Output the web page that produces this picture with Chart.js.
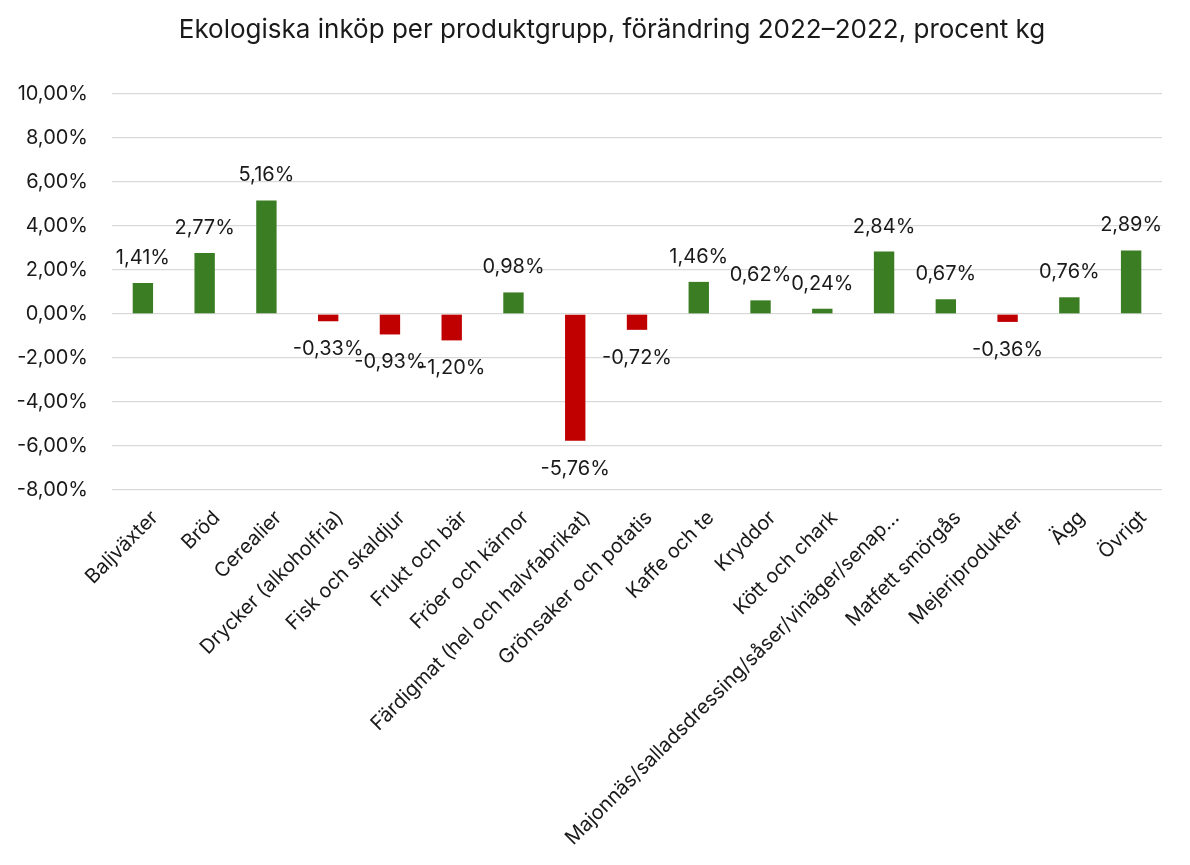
<!DOCTYPE html>
<html>
<head>
<meta charset="utf-8">
<script src="https://cdn.jsdelivr.net/npm/chart.js@4"></script>
<style>
  body { margin: 0; background: #fff; }
  #wrap { width: 1190px; height: 865px; }
</style>
</head>
<body>
<div id="wrap"><canvas id="chart" width="1190" height="865"></canvas></div>
<script>
const categories = [
    "Baljväxter", "Bröd", "Cerealier", "Drycker (alkoholfria)", "Fisk och skaldjur",
    "Frukt och bär", "Fröer och kärnor", "Färdigmat (hel och halvfabrikat)",
    "Grönsaker och potatis", "Kaffe och te", "Kryddor", "Kött och chark",
    "Majonnäs/salladsdressing/såser/vinäger/senap…", "Matfett smörgås",
    "Mejeriprodukter", "Ägg", "Övrigt"
];
const changes = [1.41, 2.77, 5.16, -0.33, -0.93, -1.20, 0.98, -5.76, -0.72, 1.46, 0.62, 0.24, 2.84, 0.67, -0.36, 0.76, 2.89];
const yTicks = { min: -8, max: 10, step: 2 };
const titleText = "Ekologiska inköp per produktgrupp, förändring 2022–2022, procent kg";

const FONT = "Inter, 'Liberation Sans', sans-serif";
const pct = v => v.toFixed(2).replace('.', ',') + '%';

// titel + etiketter ovanför/under staplarna
const valueLabels = {
    id: 'valueLabels',
    afterDatasetsDraw(chart) {
        const ctx = chart.ctx;
        const meta = chart.getDatasetMeta(0);
        ctx.save();
        ctx.fillStyle = "#1a1a1a";
        ctx.textAlign = "center";
        ctx.textBaseline = "middle";
        ctx.font = "26px " + FONT;
        ctx.fillText(titleText, 612, 30);
        ctx.font = "20px " + FONT;
        meta.data.forEach((bar, i) => {
            const v = changes[i];
            const y = v >= 0 ? bar.y - 25 : bar.y + 28;
            ctx.fillText(pct(v), bar.x, y);
        });
        ctx.restore();
    }
};

new Chart(document.getElementById("chart"), {
    type: 'bar',
    data: {
        labels: categories,
        datasets: [{
            data: changes,
            backgroundColor: changes.map(v => v >= 0 ? "#3b7d23" : "#c00000"),
            barPercentage: 0.33,
            categoryPercentage: 1
        }]
    },
    options: {
        responsive: false,
        animation: false,
        layout: { padding: { left: 0, right: 28, top: 94, bottom: 0 } },
        plugins: {
            legend: { display: false },
            tooltip: { enabled: false },
            title: { display: false }
        },
        scales: {
            x: {
                grid: { display: false, drawTicks: false },
                border: { display: false },
                ticks: {
                    autoSkip: false,
                    minRotation: 45,
                    maxRotation: 45,
                    padding: 16,
                    labelOffset: 12,
                    color: "#1a1a1a",
                    font: { family: FONT, size: 20 }
                },
                afterFit(scale) { scale.height = 375; }
            },
            y: {
                min: yTicks.min,
                max: yTicks.max,
                grid: { color: "#d9d9d9", lineWidth: 1.3, drawTicks: false },
                border: { display: false },
                ticks: {
                    stepSize: yTicks.step,
                    padding: 24,
                    color: "#1a1a1a",
                    font: { family: FONT, size: 20 },
                    callback: v => pct(v)
                },
                afterFit(scale) { scale.width = 112; }
            }
        }
    },
    plugins: [valueLabels]
});
</script>
</body>
</html>
